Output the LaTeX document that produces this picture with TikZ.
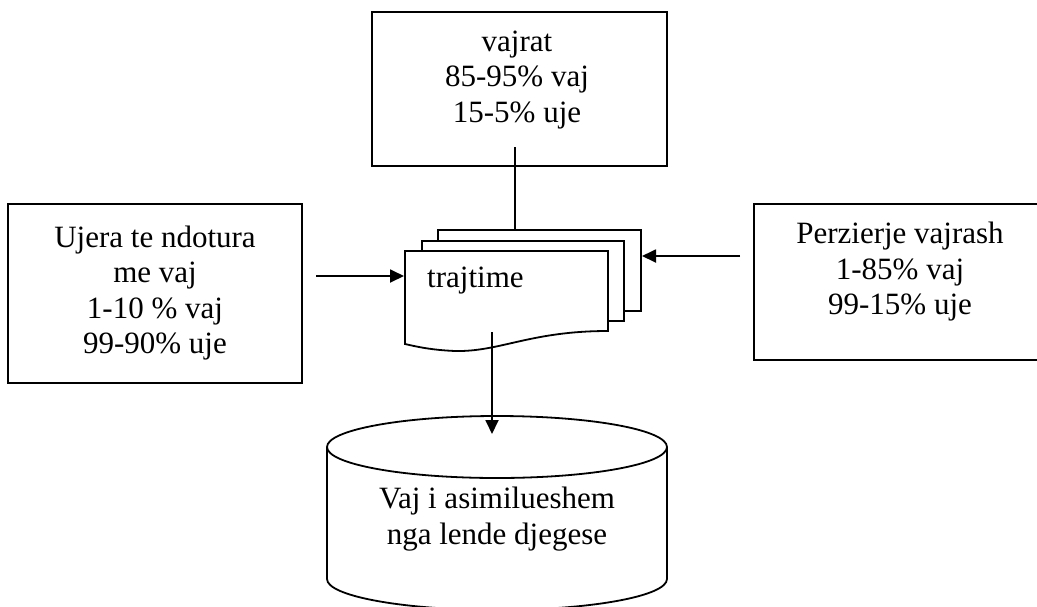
\documentclass[tikz,border=0pt]{standalone}
\usepackage{fontspec}
\setmainfont{Liberation Serif}
\usetikzlibrary{arrows.meta}
\tikzset{
  ln/.style={line width=1.8pt, line join=miter},
  boxshape/.style={ln, draw, fill=white},
  lbl/.style={inner sep=0pt, align=center, font=\fontsize{31}{35.5}\selectfont},
  arr/.style={ln, -{Triangle[length=14pt,width=13pt]}}
}
\begin{document}
\begin{tikzpicture}[x=1pt,y=-1pt]
\useasboundingbox (0,0) rectangle (1037,606);
\clip (0,0) rectangle (1037,606);
\fill[white] (0,0) rectangle (1037,606);

% top box
\draw[boxshape] (372,12) rectangle (667,166);
\node[lbl] (toptext) at (517,80) {vajrat\\85-95\% vaj\\15-5\% uje};

% left box
\draw[boxshape] (8,204) rectangle (302,383);
\node[lbl] (lefttext) at (155,293) {Ujera te ndotura\\me vaj\\1-10 \% vaj\\99-90\% uje};

% right box
\draw[boxshape] (754,204) rectangle (1050,360);
\node[lbl] (righttext) at (900,272) {Perzierje vajrash\\1-85\% vaj\\99-15\% uje};

% multi-document
\draw[boxshape] (438,230) rectangle (641,311);
\draw[boxshape] (422,241) rectangle (624,321);
\draw[boxshape] (405,251) -- (608,251) -- (608,331)
   .. controls (530,331) and (500,352) .. (455,351)
   .. controls (432,350) and (418,347) .. (405,344) -- cycle;
\node[lbl, anchor=west] (doctext) at (427,281) {trajtime};

% cylinder
\draw[ln, fill=white] (327,447) -- (327,579)
   .. controls (327,596.1) and (403.1,610) .. (497,610)
   .. controls (590.9,610) and (667,596.1) .. (667,579) -- (667,447);
\draw[ln, fill=white] (497,447) ellipse[x radius=170, y radius=31];
\node[lbl] (cyltext) at (497,519) {Vaj i asimilueshem\\nga lende djegese};

% connector coordinates
\coordinate (topA) at (515,147);
\coordinate (docTop) at (515,230);
\coordinate (leftA) at (316,276);
\coordinate (docLeft) at (404,276);
\coordinate (rightA) at (740,256);
\coordinate (docRight) at (642,256);
\coordinate (docBot) at (492,332);
\coordinate (cylTop) at (492,434);

\draw[ln] (topA) -- (docTop);
\draw[arr] (leftA) -- (docLeft);
\draw[arr] (rightA) -- (docRight);
\draw[arr] (docBot) -- (cylTop);
\end{tikzpicture}
\end{document}
